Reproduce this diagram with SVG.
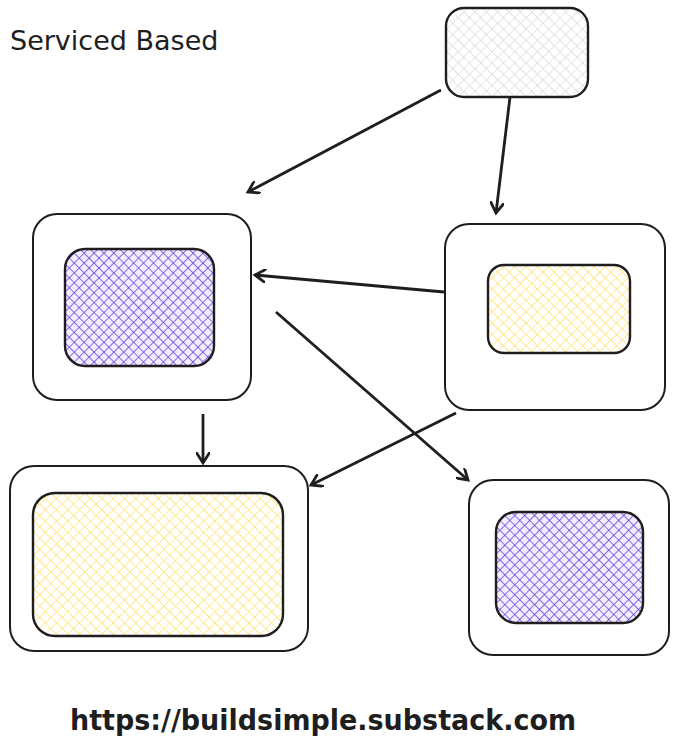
<svg xmlns="http://www.w3.org/2000/svg" width="679" height="751" viewBox="0 0 679 751">
<defs>
<style>
.box{fill:none;stroke:#1e1e1e;stroke-width:2}
.inner{stroke:#1e1e1e;stroke-width:2.4}
.arrow{stroke:#1e1e1e;stroke-width:2.8;fill:none;marker-end:url(#ah)}
.t{font-family:"Comic Sans MS","DejaVu Sans",sans-serif;fill:#1e1e1e}
</style>
<pattern id="hp" width="7" height="7" patternUnits="userSpaceOnUse" patternTransform="rotate(45)">
<rect width="7" height="7" fill="#d9ccff" opacity="0.35"/>
<path d="M0 0V7M0 0H7" stroke="#6741d9" stroke-width="1.5"/>
</pattern>
<pattern id="hy" width="8" height="8" patternUnits="userSpaceOnUse" patternTransform="rotate(45)">
<path d="M0 0V8M0 0H8" stroke="#ffe066" stroke-width="1.3"/>
</pattern>
<pattern id="hg" width="8" height="8" patternUnits="userSpaceOnUse" patternTransform="rotate(45)">
<path d="M0 0V8M0 0H8" stroke="#d5dae0" stroke-width="1.3"/>
</pattern>
<marker id="ah" markerWidth="14" markerHeight="14" refX="11" refY="7" orient="auto" markerUnits="userSpaceOnUse" viewBox="0 0 14 14">
<path d="M0 0L11 7L0 14" fill="none" stroke="#1e1e1e" stroke-width="2.8"/>
</marker>
</defs>
<rect width="679" height="751" fill="#fff"/>
<text class="t" x="10" y="50" font-size="27">Serviced Based</text>
<g id="top"><rect x="446" y="8" width="142" height="89" rx="18" fill="url(#hg)" class="inner"/></g>
<g id="left"><rect x="33" y="214" width="218" height="186" rx="24" class="box"/><rect x="65" y="249" width="149" height="117" rx="20" fill="url(#hp)" class="inner"/></g>
<g id="right"><rect x="445" y="224" width="220" height="186" rx="24" class="box"/><rect x="488" y="265" width="142" height="88" rx="16" fill="url(#hy)" class="inner"/></g>
<g id="bl"><rect x="10" y="466" width="298" height="185" rx="24" class="box"/><rect x="33" y="493" width="250" height="143" rx="22" fill="url(#hy)" class="inner"/></g>
<g id="br"><rect x="469" y="480" width="200" height="175" rx="24" class="box"/><rect x="496" y="512" width="147" height="111" rx="20" fill="url(#hp)" class="inner"/></g>
<g id="connectors">
<path class="arrow" d="M441 90L248 192"/>
<path class="arrow" d="M510 97L496 213"/>
<path class="arrow" d="M444 292L255 275"/>
<path class="arrow" d="M276 312L468 480"/>
<path class="arrow" d="M456 413L311 485"/>
<path class="arrow" d="M203 414L203 463"/>
</g>
<text class="t" x="70" y="730" font-size="29" font-weight="bold" textLength="506" lengthAdjust="spacingAndGlyphs">https://buildsimple.substack.com</text>
</svg>
